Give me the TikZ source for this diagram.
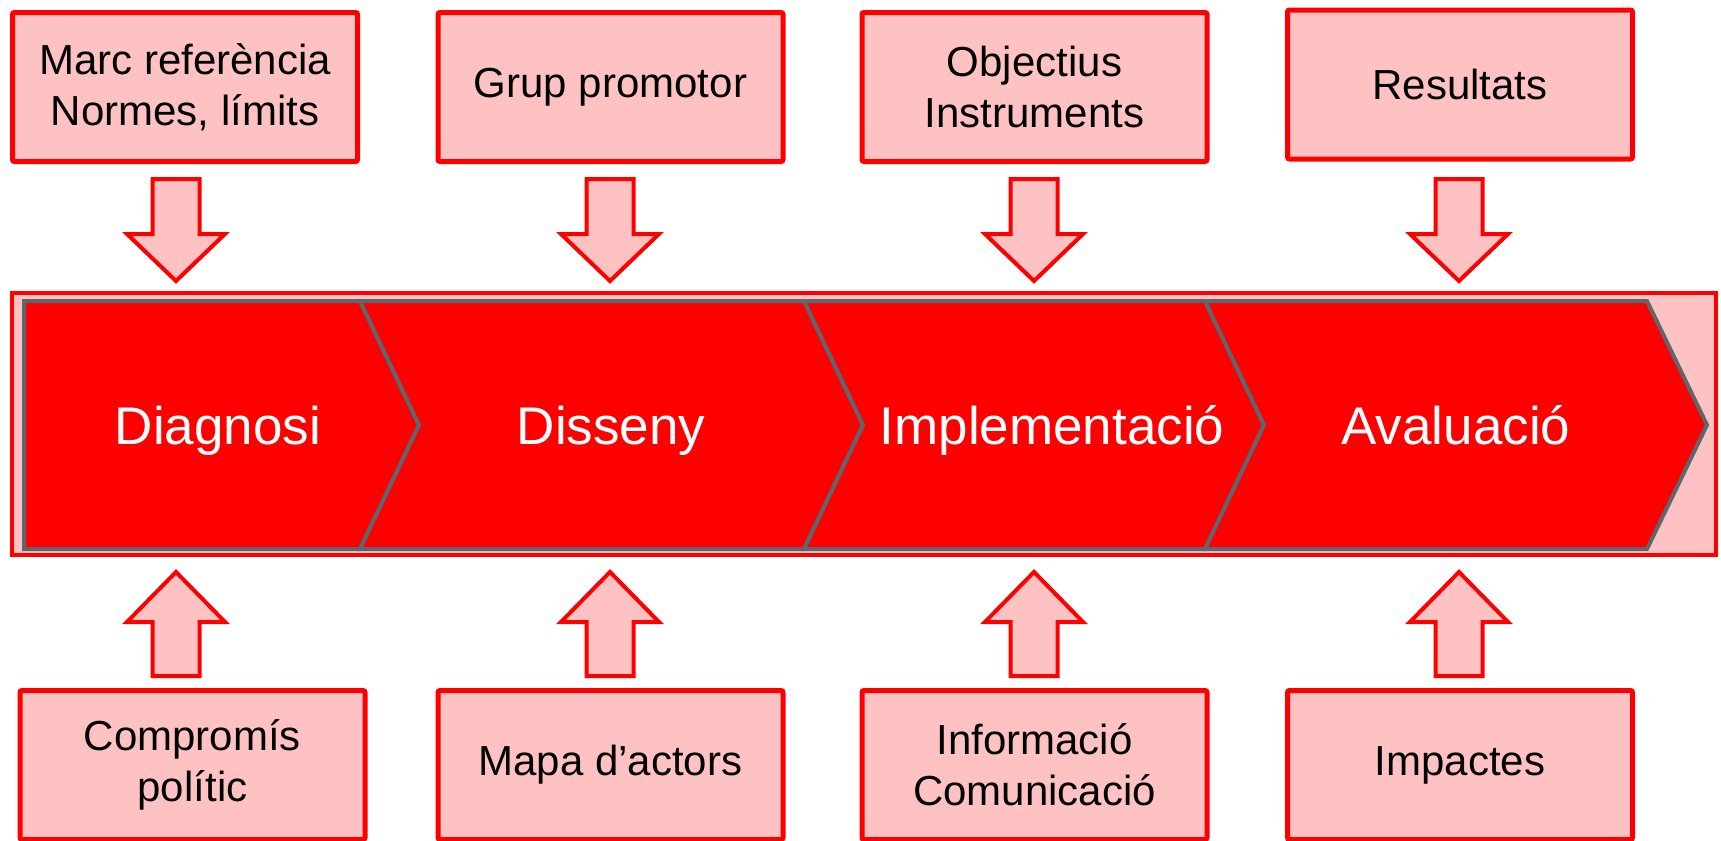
\documentclass[tikz,border=0pt]{standalone}
\usepackage{fontspec}
\setmainfont{Liberation Sans}
\usepackage{tikz}
\definecolor{boxred}{HTML}{FF0000}
\definecolor{boxpink}{HTML}{FFC2C2}
\definecolor{stepred}{HTML}{FE0000}
\definecolor{stepgray}{HTML}{5F676E}

\begin{document}
\begin{tikzpicture}[
  x=0.5pt, y=-0.5pt,
  infobox/.style={draw=boxred, fill=boxpink, line width=2.5pt,
                  rounded corners=1pt, minimum width=172.5pt,
                  minimum height=74.5pt, align=center,
                  font=\fontsize{21}{25.5}\selectfont},
  blockarrow/.style={draw=boxred, fill=boxpink, line width=2pt},
  stepshape/.style={draw=stepgray, fill=stepred, line width=2pt},
  steplabel/.style={anchor=base, text=white,
                    font=\fontsize{26.5}{30}\selectfont},
]
\clip (0,0) rectangle (1721,841);

% Band behind the steps
\draw[draw=boxred, fill=boxpink, line width=2pt] (12,293) rectangle (1716,555);

% Steps (chevrons)
\draw[stepshape] (24,301) -- (360,301) -- (419,425) -- (360,549) -- (24,549) -- cycle;
\draw[stepshape] (360,301) -- (804,301) -- (863,425) -- (804,549) -- (360,549)
  -- (419,425) -- cycle;
\draw[stepshape] (804,301) -- (1205,301) -- (1264,425) -- (1205,549) -- (804,549)
  -- (863,425) -- cycle;
\draw[stepshape] (1205,301) -- (1647,301) -- (1707,425) -- (1647,549) -- (1205,549)
  -- (1264,425) -- cycle;

\node[steplabel] (diag) at (218,444) {Diagnosi};
\node[steplabel] (diss) at (611,444) {Disseny};
\node[steplabel] (impl) at (1052,444) {Implementació};
\node[steplabel] (aval) at (1456,444) {Avaluació};

% Top boxes
\node[infobox] (marc) at (185,87) {Marc referència\\Normes, límits};
\node[infobox] (grup) at (610.5,87) {Grup promotor};
\node[infobox] (obj)  at (1034.5,87) {Objectius\\Instruments};
\node[infobox] (res)  at (1460,84.5) {Resultats};

% Bottom boxes
\node[infobox] (comp) at (192.5,765) {Compromís\\polític};
\node[infobox] (mapa) at (610.5,765) {Mapa d’actors};
\node[infobox] (info) at (1034.5,765) {Informació\\Comunicació};
\node[infobox] (imp)  at (1460,765) {Impactes};

% Block arrows
\foreach \x in {176,610,1034,1459} {
  \draw[blockarrow] (\x-23.5,179) -- (\x+23.5,179) -- (\x+23.5,234) -- (\x+49,234)
    -- (\x,281) -- (\x-49,234) -- (\x-23.5,234) -- cycle;
  \draw[blockarrow] (\x-23.5,676) -- (\x+23.5,676) -- (\x+23.5,622) -- (\x+49,622)
    -- (\x,572) -- (\x-49,622) -- (\x-23.5,622) -- cycle;
}

\end{tikzpicture}
\end{document}
